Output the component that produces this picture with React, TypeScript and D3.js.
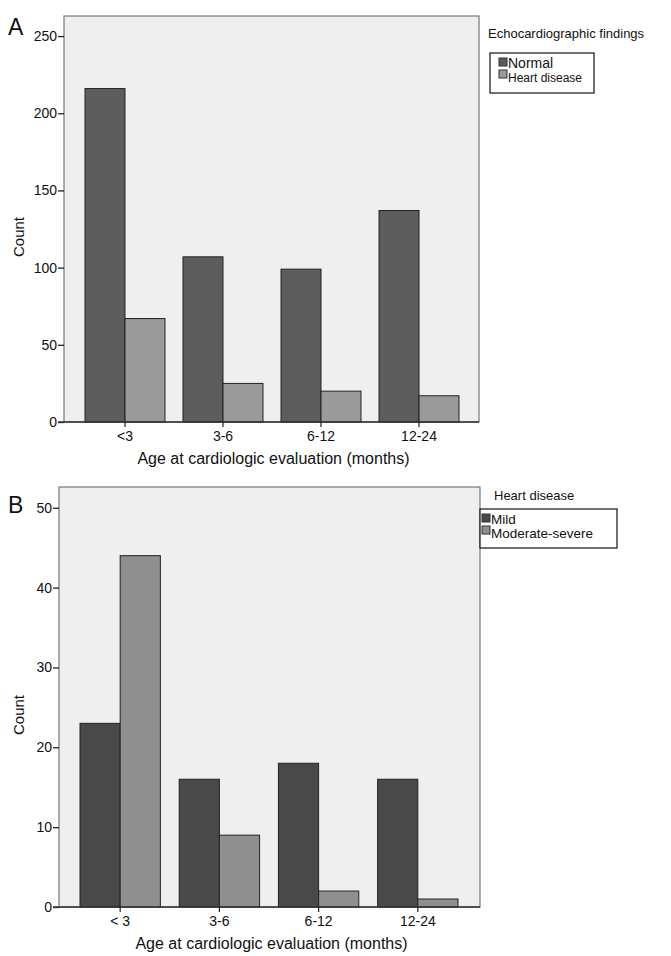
import React, { useRef, useEffect } from 'react';
import * as d3 from 'd3';

// age groups and counts
const ageGroupsA = ['<3', '3-6', '6-12', '12-24'];
const normalCounts = [216, 107, 99, 137];
const heartDiseaseCounts = [67, 25, 20, 17];
const ticksA = [0, 50, 100, 150, 200, 250];

const ageGroupsB = ['< 3', '3-6', '6-12', '12-24'];
const mildCounts = [23, 16, 18, 16];
const moderateSevereCounts = [44, 9, 2, 1];
const ticksB = [0, 10, 20, 30, 40, 50];

const FONT = '"Liberation Sans", Arial, sans-serif';

const drawPanel = (g: any, cfg: any) => {
    const { left, top, right, bottom, yMax, ticks, groups, series, colors, names,
        letter, letterY, legendTitle, legendTitleX, legendTitleY, legendBox, bandRange, pad } = cfg;

    const xScale = d3.scaleBand().domain(groups).range(bandRange).paddingInner(pad).paddingOuter(0);
    const sub = d3.scaleBand().domain(d3.range(series.length).map(String)).range([0, xScale.bandwidth()]);
    const yScale = d3.scaleLinear().domain([0, yMax]).range([bottom, top]);

    // plot background
    g.append('rect')
        .attr('x', left).attr('y', top)
        .attr('width', right - left).attr('height', bottom - top)
        .style('fill', '#efefef').style('stroke', '#777').style('stroke-width', 1.2);

    // bars
    series.forEach((vals: number[], si: number) => {
        g.selectAll('rect.s' + si)
            .data(vals)
            .enter()
            .append('rect')
            .attr('class', 's' + si)
            .attr('x', (d: number, i: number) => (xScale(groups[i]) as number) + (sub(String(si)) as number))
            .attr('y', (d: number) => yScale(d))
            .attr('width', sub.bandwidth())
            .attr('height', (d: number) => bottom - yScale(d))
            .style('fill', colors[si])
            .style('stroke', '#222')
            .style('stroke-width', 1);
    });

    // y axis
    const yAxis = g.append('g')
        .attr('transform', 'translate(' + left + ',0)')
        .call(d3.axisLeft(yScale).tickValues(ticks).tickSize(6).tickPadding(1).tickSizeOuter(0));
    yAxis.select('.domain').remove();
    yAxis.selectAll('line').style('stroke', '#222').style('stroke-width', 1.3);
    yAxis.selectAll('text').style('font-family', FONT).style('font-size', '14px').style('fill', '#111');

    // x axis
    const xAxis = g.append('g')
        .attr('transform', 'translate(0,' + bottom + ')')
        .call(d3.axisBottom(xScale).tickSize(5).tickPadding(4).tickSizeOuter(0));
    xAxis.select('.domain').attr('d', 'M' + (left - 6) + ',0H' + right).style('stroke', '#333').style('stroke-width', 1.3);
    xAxis.selectAll('line').style('stroke', '#222').style('stroke-width', 1.2);
    xAxis.selectAll('text').style('font-family', FONT).style('font-size', '14px').style('fill', '#111');

    // axis titles
    g.append('text')
        .attr('x', (left + right) / 2 + 2).attr('y', bottom + 42)
        .attr('text-anchor', 'middle')
        .style('font-family', FONT).style('font-size', '16px').style('fill', '#111')
        .text('Age at cardiologic evaluation (months)');
    g.append('text')
        .attr('transform', 'translate(24,' + ((top + bottom) / 2 + 18) + ') rotate(-90)')
        .attr('text-anchor', 'middle')
        .style('font-family', FONT).style('font-size', '15px').style('fill', '#111')
        .text('Count');

    // panel letter
    g.append('text')
        .attr('x', 8).attr('y', letterY)
        .style('font-family', FONT).style('font-size', '23px').style('fill', '#111')
        .text(letter);

    // legend
    g.append('text')
        .attr('x', legendTitleX).attr('y', legendTitleY)
        .style('font-family', FONT).style('font-size', '13px').style('fill', '#111')
        .text(legendTitle);
    g.append('rect')
        .attr('x', legendBox.x).attr('y', legendBox.y)
        .attr('width', legendBox.w).attr('height', legendBox.h)
        .style('fill', 'white').style('stroke', '#111').style('stroke-width', 1.2);
    names.forEach((name: string, i: number) => {
        g.append('rect')
            .attr('x', legendBox.x + legendBox.sw).attr('y', legendBox.y + 5 + i * 12)
            .attr('width', 8).attr('height', 8)
            .style('fill', colors[i]).style('stroke', '#333').style('stroke-width', 1);
        g.append('text')
            .attr('x', legendBox.x + legendBox.sw + 9).attr('y', legendBox.y + 15 + i * legendBox.gap)
            .style('font-family', FONT).style('font-size', legendBox.fs[i] + 'px').style('fill', '#111')
            .text(name);
    });
};

const App = () => {
    const ref = useRef(null);
    useEffect(() => {
        d3.select(ref.current).selectAll('*').remove();
        const g = d3.select(ref.current);
        drawPanel(g.append('g'), {
            left: 64, top: 16, right: 479, bottom: 422, yMax: 263, ticks: ticksA,
            groups: ageGroupsA, series: [normalCounts, heartDiseaseCounts],
            colors: ['#5d5d5d', '#9a9a9a'], names: ['Normal', 'Heart disease'],
            letter: 'A', letterY: 35,
            legendTitle: 'Echocardiographic findings', legendTitleX: 488, legendTitleY: 38,
            legendBox: { x: 490, y: 53, w: 104, h: 40, sw: 9, fs: [14, 12], gap: 14 },
            bandRange: [85, 459], pad: 0.184,
        });
        drawPanel(g.append('g'), {
            left: 59, top: 487, right: 480, bottom: 907, yMax: 52.6, ticks: ticksB,
            groups: ageGroupsB, series: [mildCounts, moderateSevereCounts],
            colors: ['#494949', '#8f8f8f'], names: ['Mild', 'Moderate-severe'],
            letter: 'B', letterY: 513,
            legendTitle: 'Heart disease', legendTitleX: 494, legendTitleY: 500,
            legendBox: { x: 480, y: 509, w: 137, h: 39, sw: 2, fs: [13.5, 13.5], gap: 14 },
            bandRange: [80, 458], pad: 0.19,
        });
    }, []);
    return (
        <svg width={671} height={956} style={{ position: 'absolute', left: 0, top: 0, background: 'white' }}>
            <g ref={ref}></g>
        </svg>
    );
};

export default App;
